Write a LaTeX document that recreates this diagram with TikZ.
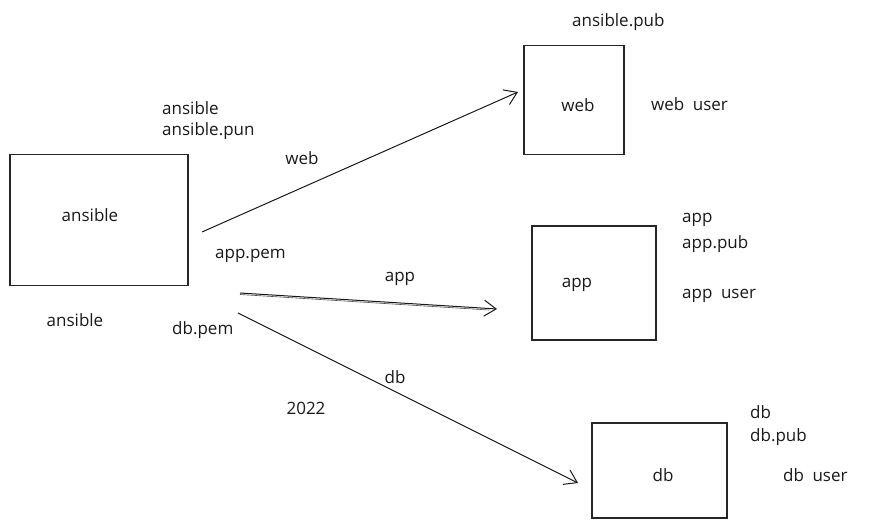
\documentclass[tikz,border=0pt]{standalone}
\usepackage{fontspec}
\setmainfont{Open Sans}
\usetikzlibrary{arrows.meta,calc}
\begin{document}
\begin{tikzpicture}[x=1pt,y=-1pt,
  box/.style={draw=black!85,line width=1.1pt,inner sep=0pt},
  lbl/.style={font=\fontsize{17}{19}\selectfont,inner sep=0pt,text=black!90},
  lbll/.style={lbl,anchor=west},
  conn/.style={draw=black!90,line width=1pt,-{Straight Barb[length=12pt,width=16pt,line width=1pt]}}]
\useasboundingbox (0,0) rectangle (869,530);
% boxes
\node[box,minimum width=178pt,minimum height=131pt] (ansible) at (99,220) {};
\node[box,minimum width=100pt,minimum height=109pt] (web) at (574,100) {};
\node[box,minimum width=124pt,minimum height=114pt] (app) at (594,283) {};
\node[box,minimum width=135pt,minimum height=95pt] (db) at (659.5,470.5) {};
% box texts
\node[lbl] (tansible) at (90,215) {ansible};
\node[lbl] (tweb) at (578,105) {web};
\node[lbl] (tapp) at (577,285) {app};
\node[lbl] (tdb) at (663,475) {db};
% side texts
\node[lbll] (k1) at (162,108) {ansible};
\node[lbll] (k2) at (162,131) {ansible.pun};
\node[lbl] (k3) at (75,320) {ansible};
\node[lbll] (k4) at (215,256) {app.pem};
\node[lbll] (k5) at (172,330) {db.pem};
\node[lbl] (k6) at (306,408) {2022};
\node[lbll] (k7) at (572,22) {ansible.pub};
\node[lbll] (k8) at (651,104) {web\hspace{0.5em}user};
\node[lbll] (k9) at (682,220) {app};
\node[lbll] (k10) at (682,244) {app.pub};
\node[lbll] (k11) at (682,296) {app\hspace{0.5em}user};
\node[lbll] (k12) at (750,412) {db};
\node[lbll] (k13) at (750,437) {db.pub};
\node[lbll] (k14) at (783,475) {db\hspace{0.5em}user};
% connector labels
\node[lbl] (lweb) at (302,158) {web};
\node[lbl] (lapp) at (400,279) {app};
\node[lbl] (ldb) at (395,377) {db};
% connector ends
\coordinate (s1) at (202,232);
\coordinate (e1) at (518,92);
\coordinate (s2) at (240,293);
\coordinate (e2) at (497,309);
\coordinate (s3) at (238,313);
\coordinate (e3) at (578,483);
\coordinate (s2b) at ($(s2)+(0,1.5)$);
\coordinate (e2b) at ($(s2)!0.97!(e2)+(0,1.5)$);
\draw[conn] (s1) -- (e1);
\draw[conn] (s2) -- (e2);
\draw[draw=black!70,line width=0.6pt] (s2b) -- (e2b);
\draw[conn] (s3) -- (e3);
\end{tikzpicture}
\end{document}
